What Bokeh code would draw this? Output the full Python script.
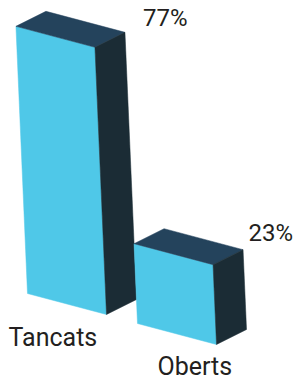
from bokeh.plotting import figure
from bokeh.models import Range1d
from bokeh.core.properties import value
from bokeh.embed import file_html
from bokeh.resources import INLINE

# ---- data ----
categories = ["Tancats", "Oberts"]
percentages = [77, 23]
value_labels = [f"{v}%" for v in percentages]

# ---- oblique projection (page pixels, y pointing down) ----
ORIGIN = (27.0, 293.0)    # front-bottom-left corner of first bar
STEP = (110.0, 30.0)      # shift between consecutive bars
WIDTH_V = (79.0, 21.0)    # front face width vector
DEPTH_V = (30.0, -15.0)   # depth vector
UNIT_V = (-0.15, -3.47)   # shift per percentage point

VALUE_OFF = [(18.0, -14.0), (5.5, -17.0)]
CAT_OFF = [(-19.0, 44.0), (20.0, 43.0)]

FRONT = "#4FC8E8"
TOP = "#24435C"
SIDE = "#1B2C35"
TEXT = "#231F20"
FONT = "Roboto"


def add(*pts):
    return (sum(p[0] for p in pts), sum(p[1] for p in pts))


def scale(v, k):
    return (v[0] * k, v[1] * k)


xs, ys, colors = [], [], []
vx, vy, cx, cy = [], [], [], []
for i, (cat, pct) in enumerate(zip(categories, percentages)):
    bl = add(ORIGIN, scale(STEP, i))
    h = scale(UNIT_V, pct)
    br = add(bl, WIDTH_V)
    tl = add(bl, h)
    tr = add(br, h)
    faces = [
        ([bl, br, tr, tl], FRONT),
        ([tl, tr, add(tr, DEPTH_V), add(tl, DEPTH_V)], TOP),
        ([br, add(br, DEPTH_V), add(tr, DEPTH_V), tr], SIDE),
    ]
    for pts, c in faces:
        xs.append([p[0] for p in pts])
        ys.append([p[1] for p in pts])
        colors.append(c)
    corner = add(tr, DEPTH_V)
    vx.append(corner[0] + VALUE_OFF[i][0])
    vy.append(corner[1] + VALUE_OFF[i][1])
    cx.append(bl[0] + CAT_OFF[i][0])
    cy.append(bl[1] + CAT_OFF[i][1])

p = figure(width=295, height=380, output_backend="svg", toolbar_location=None,
           x_range=Range1d(0, 295), y_range=Range1d(380, 0),
           min_border=0, outline_line_color=None)
p.xaxis.visible = False
p.yaxis.visible = False
p.grid.visible = False
p.background_fill_color = "white"
p.border_fill_color = "white"

p.patches(xs=xs, ys=ys, fill_color=colors, line_color=colors, line_width=0.5)

p.text(x=vx, y=vy, text=value_labels, text_font=value(FONT),
       text_font_size="24px", text_color=TEXT, text_baseline="alphabetic",
       text_align="left")
p.text(x=cx, y=cy, text=categories, text_font=value(FONT),
       text_font_size="25px", text_color=TEXT, text_baseline="alphabetic",
       text_align="left")

open("out.html", "w").write(file_html(p, INLINE))
